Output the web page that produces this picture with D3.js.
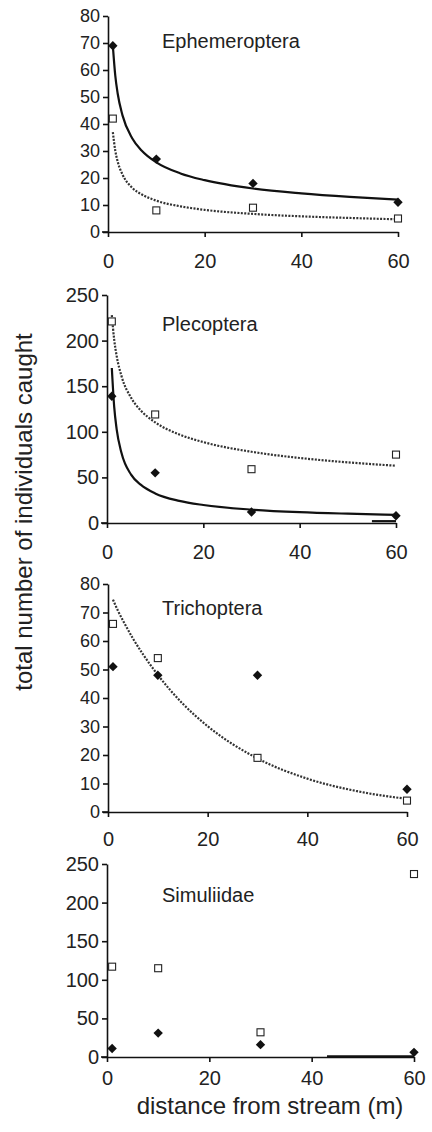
<!DOCTYPE html>
<html>
<head>
<meta charset="utf-8">
<script src="https://cdn.jsdelivr.net/npm/d3@7"></script>
<style>
  body { margin: 0; background: #fff; }
  svg { display: block; font-family: "Liberation Sans", Arial, sans-serif; }
  .axis path, .axis line { stroke: #111; stroke-width: 1.6; }
  .axis text { fill: #222; }
</style>
</head>
<body>
<svg class="plot" width="432" height="1132"></svg>
<script>
  // values
  const taxa = ["Ephemeroptera", "Plecoptera", "Trichoptera", "Simuliidae"]
  const distances = [1, 10, 30, 60]
  const filledCounts = [[69, 27, 18, 11], [139, 55, 12, 8], [51, 48, 48, 8], [11, 31, 16, 6]]
  const openCounts = [[42, 8, 9, 5], [221, 119, 59, 75], [66, 54, 19, 4], [117, 115, 32, 237]]
  const yMax = [80, 250, 80, 250]
  const yStep = [10, 50, 10, 50]
  const xTicks = [0, 20, 40, 60]
  // trend lines
  const trendX = [1, 1.5, 2, 3, 5, 7, 10, 15, 20, 30, 40, 50, 60]
  const solidTrend = [
    [69, 58, 51.3, 43.2, 34.7, 30.1, 25.8, 21.7, 19.2, 16.1, 14.3, 13.0, 12.0],
    [170, 127, 103, 77, 53, 42, 32.4, 24.2, 19.7, 14.7, 11.9, 10.2, 8.9],
    null,
    null
  ]
  const dottedTrend = [
    [37, 30.2, 26.1, 21.3, 16.4, 13.9, 11.6, 9.5, 8.2, 6.7, 5.8, 5.2, 4.7],
    [228, 200.7, 183.3, 161.3, 137.3, 123.5, 110.4, 97.1, 88.7, 78.1, 71.3, 66.5, 62.8],
    [74.5, 72.5, 70.6, 67.2, 60.9, 55.4, 48.1, 38.0, 30.1, 18.8, 11.7, 7.3, 4.6],
    null
  ]
  // short stray trend stubs lying on the x axis
  const stubX = [null, [55, 60], null, [43, 60]]
  const stubY = [null, [2, 2], null, [1, 1]]

  const svg = d3.select("svg.plot")
  var boxes = [
    { left: 108, right: 398, top: 16, bottom: 232, title: 48, pad: 17, yfont: 18 },
    { left: 107, right: 396, top: 295, bottom: 523, title: 331, pad: 17, yfont: 20 },
    { left: 108, right: 407, top: 584, bottom: 812, title: 615, pad: 15, yfont: 18 },
    { left: 107, right: 414, top: 864, bottom: 1057, title: 902, pad: 9, yfont: 20 }
  ]

  taxa.forEach((name, i) => {
    var b = boxes[i]
    const xScale = d3.scaleLinear().domain([0, 60]).range([b.left, b.right])
    const yScale = d3.scaleLinear().domain([0, yMax[i]]).range([b.bottom, b.top])

    let leftAxis = d3.axisLeft(yScale).tickValues(d3.range(0, yMax[i] + 1, yStep[i])).tickSize(5).tickSizeOuter(0).tickPadding(3)
    let bottomAxis = d3.axisBottom(xScale).tickValues(xTicks).tickSize(5).tickSizeOuter(0).tickPadding(b.pad)
    svg.append("g")
      .attr("class", "x axis")
      .attr("transform", "translate(0," + b.bottom + ")")
      .call(bottomAxis)
      .selectAll("text").attr("font-size", 20)
    svg.append("g")
      .attr("class", "y axis")
      .attr("transform", "translate(" + b.left + ",0)")
      .call(leftAxis)
      .selectAll("text").attr("font-size", b.yfont)
    // x axis line runs a little left of the y axis
    svg.append("line")
      .attr("x1", b.left - 6).attr("x2", b.left)
      .attr("y1", b.bottom).attr("y2", b.bottom)
      .attr("stroke", "#111").attr("stroke-width", 1.6)

    svg.append("text")
      .attr("x", 162)
      .attr("y", b.title)
      .attr("font-size", 20)
      .attr("fill", "#222")
      .text(name)

    var line = d3.line().x(d => xScale(d[0])).y(d => yScale(d[1])).curve(d3.curveMonotoneX)
    if (dottedTrend[i]) {
      svg.append("path")
        .attr("d", line(trendX.map((x, k) => [x, dottedTrend[i][k]])))
        .attr("fill", "none")
        .attr("stroke", "#333")
        .attr("stroke-width", 2.2)
        .attr("stroke-dasharray", "2,1.4")
    }
    if (solidTrend[i]) {
      svg.append("path")
        .attr("d", line(trendX.map((x, k) => [x, solidTrend[i][k]])))
        .attr("fill", "none")
        .attr("stroke", "#111")
        .attr("stroke-width", 2.2)
    }
    if (stubX[i]) {
      svg.append("path")
        .attr("d", d3.line().x(d => xScale(d[0])).y(d => yScale(d[1]))(stubX[i].map((x, k) => [x, stubY[i][k]])))
        .attr("stroke", "#111")
        .attr("stroke-width", 2.2)
    }

    distances.forEach((x, k) => {
      svg.append("rect")
        .attr("x", xScale(x) - 3.5)
        .attr("y", yScale(openCounts[i][k]) - 3.5)
        .attr("width", 7)
        .attr("height", 7)
        .attr("fill", "#fff")
        .attr("stroke", "#222")
        .attr("stroke-width", 1.1)
      svg.append("path")
        .attr("d", d3.symbol(d3.symbolSquare, 44)())
        .attr("transform", "translate(" + xScale(x) + "," + yScale(filledCounts[i][k]) + ") rotate(45)")
        .attr("fill", "#111")
    })
  })

  svg.append("text")
    .attr("transform", "translate(32,512) rotate(-90)")
    .attr("text-anchor", "middle")
    .attr("font-size", 24)
    .attr("fill", "#222")
    .text("total number of individuals caught")
  svg.append("text")
    .attr("x", 270)
    .attr("y", 1114)
    .attr("text-anchor", "middle")
    .attr("font-size", 24)
    .attr("fill", "#222")
    .text("distance from stream (m)")
</script>
</body>
</html>
